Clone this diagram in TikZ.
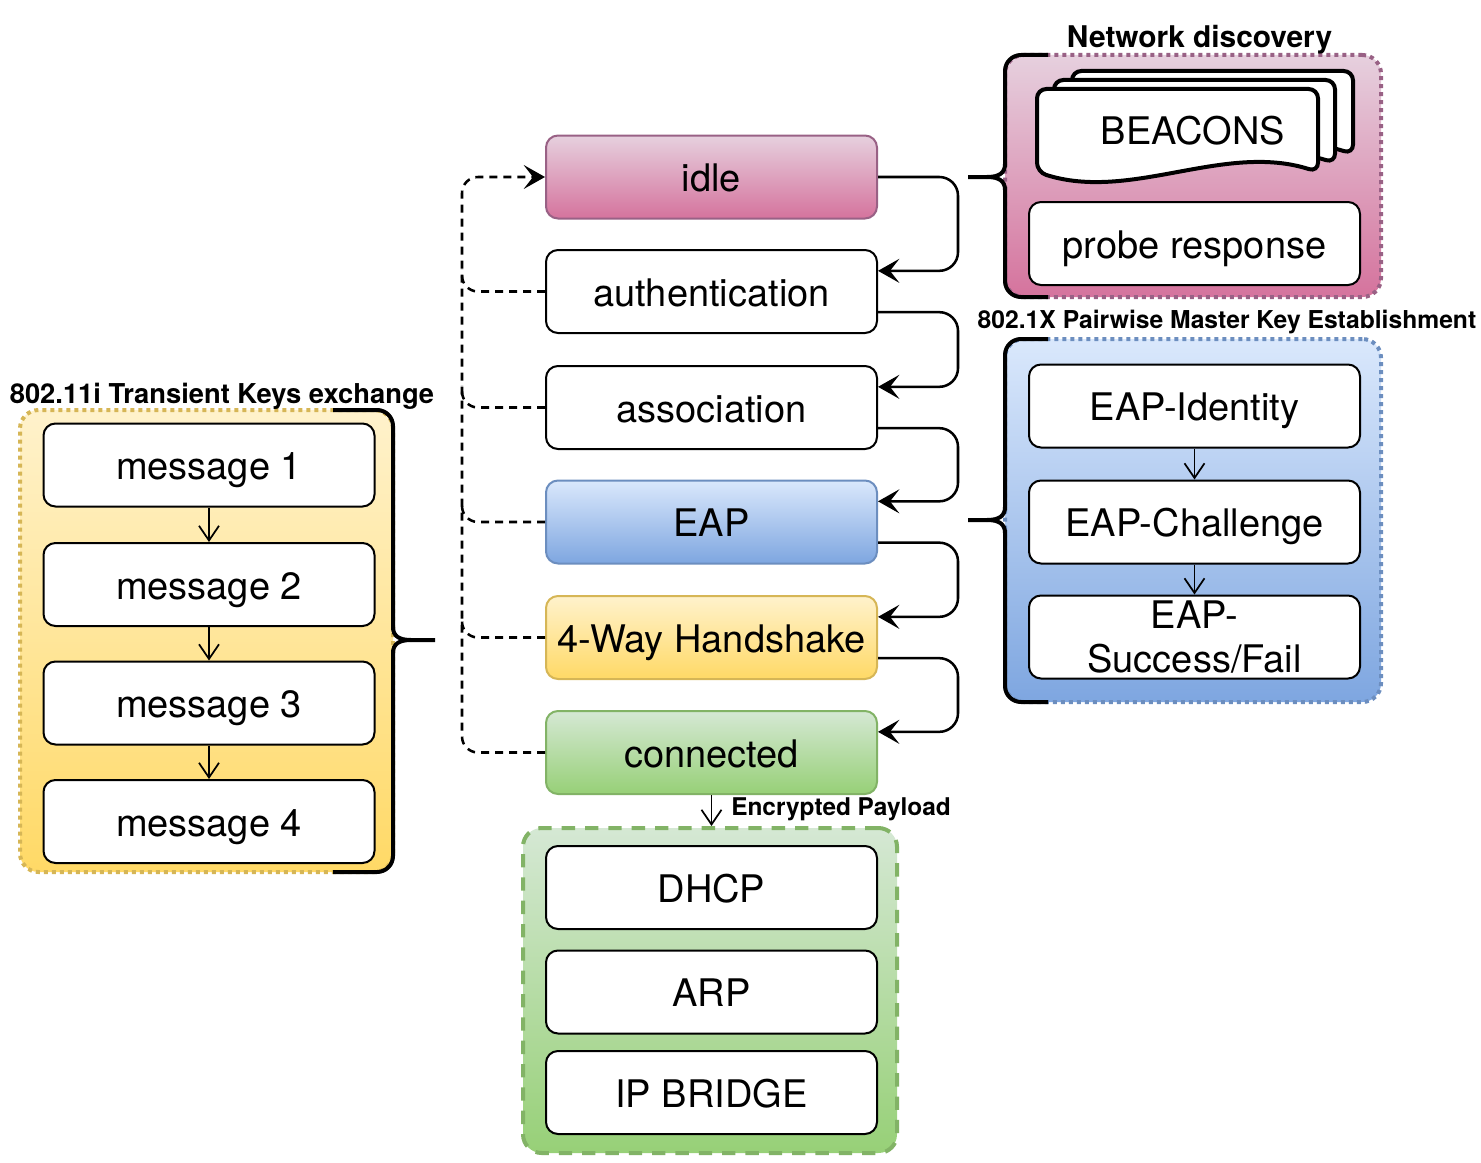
\documentclass[tikz,border=0pt]{standalone}
\usepackage{fontspec}
\setmainfont{TeX Gyre Heros}
\usetikzlibrary{arrows.meta,shadings}
\definecolor{pkT}{HTML}{E6D0DE}
\definecolor{pkB}{HTML}{D5739D}
\definecolor{pkD}{HTML}{996185}
\definecolor{blT}{HTML}{DAE8FC}
\definecolor{blB}{HTML}{7EA6E0}
\definecolor{blD}{HTML}{6C8EBF}
\definecolor{ylT}{HTML}{FFF2CC}
\definecolor{ylB}{HTML}{FFD966}
\definecolor{ylD}{HTML}{D6B656}
\definecolor{gnT}{HTML}{D5E8D4}
\definecolor{gnB}{HTML}{97D077}
\definecolor{gnD}{HTML}{82B366}
\begin{document}
\begin{tikzpicture}[x=0.75pt,y=-0.75pt,
  boxbase/.style={draw=black,line width=1.5pt,rounded corners=9pt,fill=white,
    minimum width=248.25pt,minimum height=62.25pt,inner sep=0pt,align=center,
    font=\fontsize{28.5pt}{33pt}\selectfont},
  box/.style={boxbase,text height=22pt,text depth=0pt},
  conn/.style={line width=1.9pt,rounded corners=14pt,-{Stealth[length=16pt,width=18pt,inset=7pt]}},
  dconn/.style={line width=1.9pt,dash pattern=on 6pt off 4.5pt,rounded corners=12pt},
  sarrow/.style={line width=1.3pt,-{Straight Barb[length=11pt,width=15pt,line width=1.3pt]}},
  brace/.style={line width=3pt,rounded corners=12pt},
  bracet/.style={line width=3pt},
  grp/.style={inner sep=0pt,rounded corners=14pt,line width=3pt,dash pattern=on 3pt off 3pt},
  glabel/.style={inner sep=0pt}]
\useasboundingbox (0,0) rectangle (1481,1163);

% groups
\node[grp,draw=ylD,top color=ylT,bottom color=ylB,minimum width=279.75pt,minimum height=346.5pt] (yel) at (206.5,641) {};
\node[grp,draw=pkD,top color=pkT,bottom color=pkB,minimum width=282pt,minimum height=181.5pt] (pnk) at (1193,176) {};
\node[grp,draw=blD,top color=blT,bottom color=blB,minimum width=282pt,minimum height=272.25pt] (blu) at (1193,520.5) {};
\node[inner sep=0pt,rounded corners=14pt,line width=3pt,dash pattern=on 10pt off 7.5pt,draw=gnD,top color=gnT,bottom color=gnB,minimum width=280.5pt,minimum height=243.75pt] (grn) at (710,990.5) {};

% braces
\draw[brace] (333,410) -- (393,410) -- (393,630);
\draw[bracet] (393,627) .. controls (393,636) and (399,640) .. (411,640) -- (435,640);
\draw[bracet] (411,640) .. controls (399,640) and (393,644) .. (393,653);
\draw[brace] (393,650) -- (393,872) -- (333,872);

\draw[brace] (1048,55) -- (1005,55) -- (1005,167);
\draw[bracet] (1005,164) .. controls (1005,173) and (999,177) .. (987,177) -- (968,177);
\draw[bracet] (987,177) .. controls (999,177) and (1005,181) .. (1005,190);
\draw[brace] (1005,187) -- (1005,297) -- (1048,297);

\draw[brace] (1048,339) -- (1005,339) -- (1005,510);
\draw[bracet] (1005,507) .. controls (1005,516) and (999,520) .. (987,520) -- (968,520);
\draw[bracet] (987,520) .. controls (999,520) and (1005,524) .. (1005,533);
\draw[brace] (1005,530) -- (1005,702) -- (1048,702);

% group labels
\node[glabel,font=\bfseries\fontsize{20.5pt}{24pt}\selectfont] (lyel) at (222,396) {802.11i Transient Keys exchange};
\node[glabel,font=\bfseries\fontsize{22.4pt}{26pt}\selectfont] (lpnk) at (1199.5,40) {Network discovery};
\node[glabel,font=\bfseries\fontsize{18.5pt}{22pt}\selectfont] (lblu) at (1227,322) {802.1X Pairwise Master Key Establishment};

% central states
\node[box,draw=pkD,top color=pkT,bottom color=pkB] (idle) at (711.5,177) {idle};
\node[box] (auth) at (711.5,291.5) {authentication};
\node[box] (assoc) at (711.5,407.5) {association};
\node[box,draw=blD,top color=blT,bottom color=blB] (eap) at (711.5,522) {EAP};
\node[box,draw=ylD,top color=ylT,bottom color=ylB] (hs) at (711.5,637.5) {4-Way Handshake};
\node[box,draw=gnD,top color=gnT,bottom color=gnB] (con) at (711.5,752.5) {connected};

% messages
\node[box] (m1) at (209,465) {message 1};
\node[box] (m2) at (209,584.5) {message 2};
\node[box] (m3) at (209,703) {message 3};
\node[box] (m4) at (209,821.5) {message 4};

% EAP group
\node[box] (eid) at (1194.5,406) {EAP-Identity};
\node[box] (ech) at (1194.5,522) {EAP-Challenge};
\node[boxbase] (esf) at (1194.5,637) {EAP-\\Success/Fail};

% network discovery
\foreach \dx/\dy in {35/-18,17/-9,0/0} {
  \draw[line width=3pt,fill=white,rounded corners=7pt,shift={(\dx,\dy)}]
    (1037,130) -- (1037,89) -- (1318,89) -- (1318,172)
    .. controls (1224,142) and (1131,202) .. (1037,172) -- cycle;
}
\node[inner sep=0pt,font=\fontsize{28.5pt}{33pt}\selectfont,text height=22pt,text depth=0pt] (bea) at (1193,130) {BEACONS};
\node[box] (probe) at (1194.5,243.5) {probe response};

% connected group
\node[box] (dhcp) at (711.5,887.5) {DHCP};
\node[box] (arp) at (711.5,992) {ARP};
\node[box] (ipb) at (711.5,1092.5) {IP BRIDGE};

% right connectors
\draw[conn] (idle.east) -- ++(80,0) |- ([yshift=15.5pt]auth.east);
\draw[conn] ([yshift=-15.5pt]auth.east) -- ++(80,0) |- ([yshift=15.5pt]assoc.east);
\draw[conn] ([yshift=-15.5pt]assoc.east) -- ++(80,0) |- ([yshift=15.5pt]eap.east);
\draw[conn] ([yshift=-15.5pt]eap.east) -- ++(80,0) |- ([yshift=15.5pt]hs.east);
\draw[conn] ([yshift=-15.5pt]hs.east) -- ++(80,0) |- ([yshift=15.5pt]con.east);

% left dashed connectors
\draw[dconn,-{Stealth[length=16pt,width=18pt,inset=7pt]}] (con.west) -- ++(-83,0) |- (idle.west);
\draw[dconn] (auth.west) -- ++(-83,0) -- ++(0,-22);
\draw[dconn] (assoc.west) -- ++(-83,0) -- ++(0,-22);
\draw[dconn] (eap.west) -- ++(-83,0) -- ++(0,-22);
\draw[dconn] (hs.west) -- ++(-83,0) -- ++(0,-22);

% small arrows
\draw[sarrow] (m1) -- (m2);
\draw[sarrow] (m2) -- (m3);
\draw[sarrow] (m3) -- (m4);
\draw[sarrow] (eid) -- (ech);
\draw[sarrow] (ech) -- (esf);
\draw[sarrow] (con.south) -- (con.south |- grn.north);
\node[glabel,anchor=west,font=\bfseries\fontsize{18.3pt}{22pt}\selectfont] (enc) at (731,809) {Encrypted Payload};
\end{tikzpicture}
\end{document}
